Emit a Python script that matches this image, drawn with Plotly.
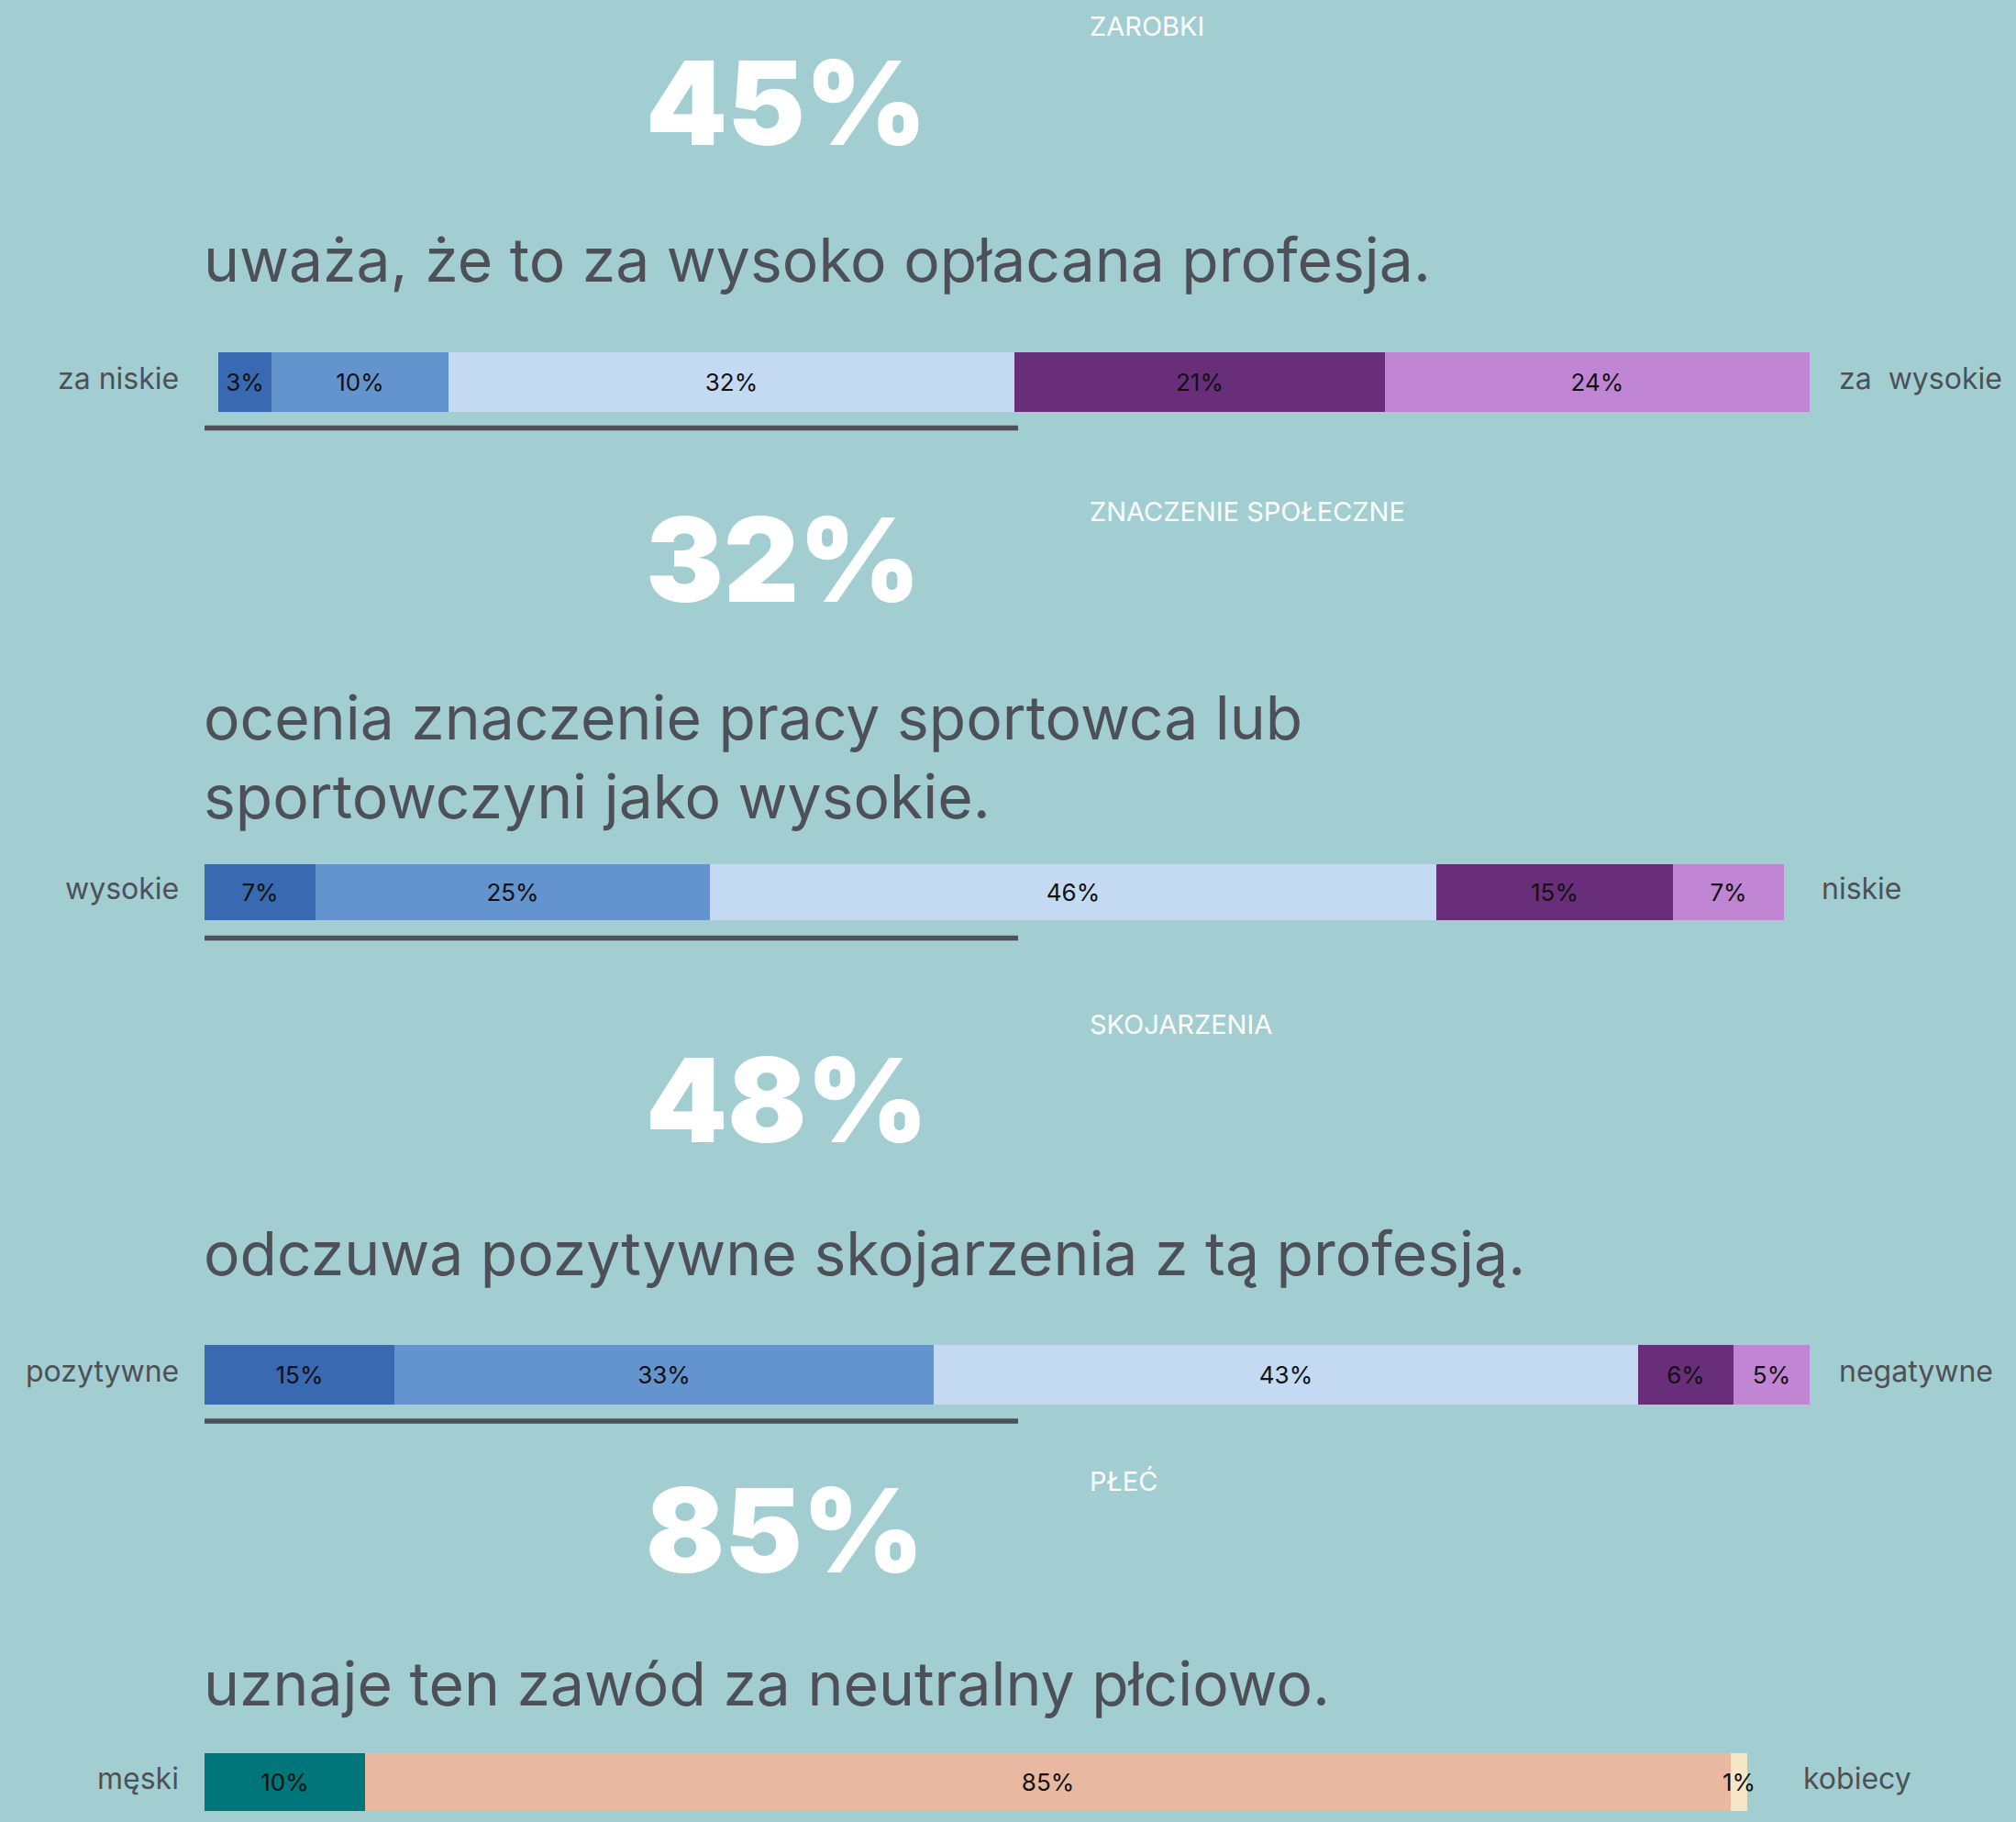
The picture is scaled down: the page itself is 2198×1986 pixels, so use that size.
import plotly.graph_objects as go

W, H = 2198, 1986

# ---------------- data ----------------
panel_titles = ["ZAROBKI", "ZNACZENIE SPOŁECZNE", "SKOJARZENIA", "PŁEĆ"]
headlines = ["45%", "32%", "48%", "85%"]
subtitles = [
    "uważa, że to za wysoko opłacana profesja.",
    "ocenia znaczenie pracy sportowca lub<br>sportowczyni jako wysokie.",
    "odczuwa pozytywne skojarzenia z tą profesją.",
    "uznaje ten zawód za neutralny płciowo.",
]
left_labels = ["za niskie", "wysokie", "pozytywne", "męski"]
right_labels = ["za\u00a0 wysokie", "niskie", "negatywne", "kobiecy"]

zarobki_values = [3, 10, 32, 21, 24]
zarobki_labels = ["3%", "10%", "32%", "21%", "24%"]
znaczenie_values = [7, 25, 46, 15, 7]
znaczenie_labels = ["7%", "25%", "46%", "15%", "7%"]
skojarzenia_values = [12, 34, 44.5, 6, 4.8]
skojarzenia_labels = ["15%", "33%", "43%", "6%", "5%"]
plec_values = [10, 85, 1]
plec_labels = ["10%", "85%", "1%"]

five_colors = ["#3869b1", "#6394ce", "#c4daf2", "#682e7a", "#c186d3"]
three_colors = ["#00767a", "#e9b8a0", "#f5e6c8"]

panels = [
    (zarobki_values, zarobki_labels, five_colors),
    (znaczenie_values, znaczenie_labels, five_colors),
    (skojarzenia_values, skojarzenia_labels, five_colors),
    (plec_values, plec_labels, three_colors),
]

# ---------------- layout geometry (pixels) ----------------
bar_x = [(238, 1973), (223, 1945), (223, 1973), (223, 1905)]
bar_y = [(384, 449), (942, 1003), (1466, 1531), (1911, 1974)]
right_label_x = [2003, 1984, 2003, 1964]
left_label_x = 197
side_label_dy = -4
title_y = [29, 557, 1116, 1614]
headline_y = [112, 610, 1199, 1668]
subtitle_y = [283, 825, 1366, 1835]
rule_y = [466.5, 1022.5, 1549]

BG = "#a2ced2"
GREY = "#4d5157"
FONT = "Inter"


def px(x):
    return x / W


def py(y):
    return 1 - y / H


fig = go.Figure()
layout_axes = {}
for i, (vals, labs, cols) in enumerate(panels):
    k = i + 1
    xa = "x" if k == 1 else f"x{k}"
    ya = "y" if k == 1 else f"y{k}"
    for v, lab, c in zip(vals, labs, cols):
        fig.add_trace(go.Bar(
            x=[v], y=[0], orientation="h", width=1,
            marker=dict(color=c, line=dict(width=0)),
            text=[lab], textposition="inside", insidetextanchor="middle",
            textangle=0, constraintext="none", cliponaxis=False,
            textfont=dict(family=FONT, size=26, color="#111111"),
            xaxis=xa, yaxis=ya, hoverinfo="skip", showlegend=False,
        ))
    x0, x1 = bar_x[i]
    y0, y1 = bar_y[i]
    layout_axes[f"xaxis{'' if k == 1 else k}"] = dict(
        domain=[px(x0), px(x1)], range=[0, sum(vals)], visible=False,
        anchor=ya, fixedrange=True)
    layout_axes[f"yaxis{'' if k == 1 else k}"] = dict(
        domain=[py(y1), py(y0)], range=[-0.5, 0.5], visible=False,
        anchor=xa, fixedrange=True)

annotations = []
for i in range(4):
    yc = (bar_y[i][0] + bar_y[i][1]) / 2 + side_label_dy
    annotations.append(dict(
        text=panel_titles[i], x=px(1186), y=py(title_y[i]), xref="paper", yref="paper",
        xanchor="left", yanchor="middle", showarrow=False,
        font=dict(family=FONT, size=29, color="white")))
    annotations.append(dict(
        text=headlines[i], x=px(702), y=py(headline_y[i]), xref="paper", yref="paper",
        xanchor="left", yanchor="middle", showarrow=False,
        font=dict(family=FONT, size=127, color="white", weight=900)))
    annotations.append(dict(
        text=subtitles[i], x=px(220), y=py(subtitle_y[i]), xref="paper", yref="paper",
        xanchor="left", yanchor="middle", align="left", showarrow=False,
        font=dict(family=FONT, size=66, color=GREY)))
    annotations.append(dict(
        text=left_labels[i], x=px(left_label_x), y=py(yc), xref="paper", yref="paper",
        xanchor="right", yanchor="middle", showarrow=False,
        font=dict(family=FONT, size=32, color=GREY)))
    annotations.append(dict(
        text=right_labels[i], x=px(right_label_x[i]), y=py(yc), xref="paper", yref="paper",
        xanchor="left", yanchor="middle", showarrow=False,
        font=dict(family=FONT, size=32, color=GREY)))

shapes = []
for ry in rule_y:
    shapes.append(dict(type="line", xref="paper", yref="paper",
                       x0=px(223), x1=px(1110), y0=py(ry), y1=py(ry),
                       line=dict(color=GREY, width=5.5)))

fig.update_layout(
    width=W, height=H, margin=dict(l=0, r=0, t=0, b=0),
    paper_bgcolor=BG, plot_bgcolor=BG, barmode="stack", bargap=0,
    annotations=annotations, shapes=shapes, showlegend=False,
    **layout_axes,
)

fig.write_html(
    "out.html",
    config={"displayModeBar": False},
    post_script="document.body.style.margin='0';document.body.style.background='" + BG + "';",
)
